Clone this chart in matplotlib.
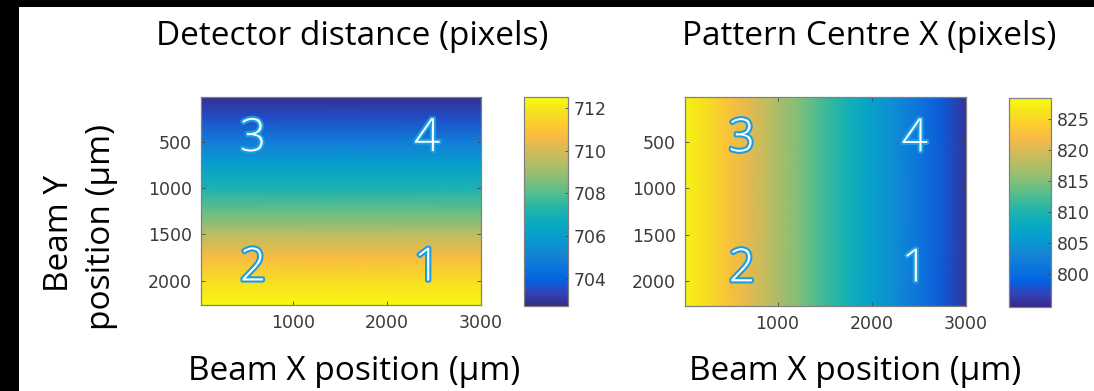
import numpy as np
import matplotlib
matplotlib.use('Agg')
import matplotlib.pyplot as plt
from matplotlib.colors import LinearSegmentedColormap
from matplotlib.patches import Rectangle
import matplotlib.patheffects as pe

# Detector distance (pixels), read row by row - it changes with beam Y only
dd_y = [15, 250, 500, 750, 1000, 1250, 1500, 1750, 2000, 2265]
dd_val = [702.9, 703.6, 704.9, 706.1, 707.1, 708.2, 709.5, 710.7, 711.7, 712.4]

# Pattern centre X (pixels), read column by column - it changes with beam X only
pcx_x = [15, 250, 500, 750, 1000, 1250, 1500, 1750, 2000, 2250, 2500, 2750, 3005]
pcx_val = [827.6, 825.4, 822.7, 820.0, 817.3, 814.6, 811.9, 809.2, 806.5, 803.8, 801.1, 798.4, 795.6]

x_range = [15, 3005]
y_range = [15, 2265]

x_ticks = [1000, 2000, 3000]
y_ticks = [500, 1000, 1500, 2000]
dd_cticks = [704, 706, 708, 710, 712]
pcx_cticks = [800, 805, 810, 815, 820, 825]
dd_clim = (702.75, 712.5)
pcx_clim = (794.7, 828.4)

# numbered beam positions (label, x, y baseline)
dd_points = [('1', 2430, 2000), ('2', 570, 2000), ('3', 570, 600), ('4', 2430, 600)]
pcx_points = [('1', 2460, 2000), ('2', 620, 2000), ('3', 620, 600), ('4', 2460, 600)]

# MATLAB parula, every 4th entry of the 64 colour table
parula = LinearSegmentedColormap.from_list('parula', [
    (0.2081, 0.1663, 0.5292), (0.1959, 0.2645, 0.7279), (0.0117, 0.3875, 0.8820),
    (0.0498, 0.4586, 0.8641), (0.0793, 0.5200, 0.8312), (0.0343, 0.5966, 0.8199),
    (0.0228, 0.6535, 0.7768), (0.0843, 0.6928, 0.7062), (0.2178, 0.7250, 0.6193),
    (0.3953, 0.7459, 0.5244), (0.5709, 0.7485, 0.4494), (0.7184, 0.7411, 0.3905),
    (0.8507, 0.7299, 0.3360), (0.9739, 0.7314, 0.2666), (0.9880, 0.8066, 0.1794),
    (0.9589, 0.8949, 0.1132), (0.9763, 0.9831, 0.0538)])

W, H = 1094, 391
fig = plt.figure(figsize=(W / 100, H / 100), dpi=100)
fig.patch.set_facecolor('white')

def px(x0, y0, x1, y1):
    return [x0 / W, 1 - y1 / H, (x1 - x0) / W, (y1 - y0) / H]

tick_font = dict(family='DejaVu Sans', size=12.5, color='#3a3a3a')
label_font = 'Open Sans'
num_fx = [pe.withStroke(linewidth=3.0, foreground='#1b9de2')]

def draw(ax, cax, X, Y, Z, clim, cticks, points):
    m = ax.pcolormesh(X, Y, Z, cmap=parula, vmin=clim[0], vmax=clim[1], shading='gouraud')
    ax.set_xlim(x_range)
    ax.set_ylim(y_range[1], y_range[0])
    ax.set_xticks(x_ticks)
    ax.set_yticks(y_ticks)
    ax.tick_params(direction='in', length=3, width=0.6, color='#444444',
                   top=True, right=True, labelsize=tick_font['size'],
                   labelcolor=tick_font['color'], pad=6.5)
    for lab in ax.get_xticklabels() + ax.get_yticklabels():
        lab.set_family(tick_font['family'])
    for s in ax.spines.values():
        s.set_color('#808080')
        s.set_linewidth(0.9)
    for t, x, y in points:
        ax.text(x, y, t, ha='center', va='baseline', fontsize=33, color='white',
                family=label_font, fontweight='light', path_effects=num_fx)
    cb = fig.colorbar(m, cax=cax, ticks=cticks)
    cb.outline.set_edgecolor('#808080')
    cb.outline.set_linewidth(0.9)
    cax.tick_params(direction='in', length=2, width=0.6, color='#444444',
                    labelsize=tick_font['size'], labelcolor=tick_font['color'], pad=4)
    for lab in cax.get_yticklabels():
        lab.set_family(tick_font['family'])

# left: detector distance
ax1 = fig.add_axes(px(201, 97, 481, 305))
cax1 = fig.add_axes(px(524, 97, 568, 306))
Xg, Yg = np.meshgrid(x_range, dd_y)
Z1 = np.repeat(np.array(dd_val)[:, None], len(x_range), axis=1)
draw(ax1, cax1, Xg, Yg, Z1, dd_clim, dd_cticks, dd_points)

# right: pattern centre X
ax2 = fig.add_axes(px(685, 97, 966, 306))
cax2 = fig.add_axes(px(1009, 98, 1051, 307))
Xg2, Yg2 = np.meshgrid(pcx_x, y_range)
Z2 = np.repeat(np.array(pcx_val)[None, :], len(y_range), axis=0)
draw(ax2, cax2, Xg2, Yg2, Z2, pcx_clim, pcx_cticks, pcx_points)

# titles and axis labels
big = 24
fig.text(352 / W, 1 - 45 / H, 'Detector distance (pixels)', ha='center', va='baseline',
         fontsize=big, family=label_font)
fig.text(869 / W, 1 - 45 / H, 'Pattern Centre X (pixels)', ha='center', va='baseline',
         fontsize=big, family=label_font)
fig.text(354 / W, 1 - 380 / H, 'Beam X position (\u03bcm)', ha='center', va='baseline',
         fontsize=big, family=label_font)
fig.text(855 / W, 1 - 380 / H, 'Beam X position (\u03bcm)', ha='center', va='baseline',
         fontsize=big, family=label_font)
fig.text(68 / W, 1 - 233 / H, 'Beam Y', rotation=90, rotation_mode='anchor',
         ha='center', va='baseline', fontsize=big, family=label_font)
fig.text(110 / W, 1 - 227 / H, 'position (\u03bcm)', rotation=90, rotation_mode='anchor',
         ha='center', va='baseline', fontsize=big, family=label_font)

# black frame strips at the left and top edges
fig.patches.append(Rectangle((0, 0), 19 / W, 1, transform=fig.transFigure,
                             facecolor='black', edgecolor='none', zorder=10))
fig.patches.append(Rectangle((0, 1 - 7 / H), 1, 7 / H, transform=fig.transFigure,
                             facecolor='black', edgecolor='none', zorder=10))

fig.savefig('out.png', dpi=100)
